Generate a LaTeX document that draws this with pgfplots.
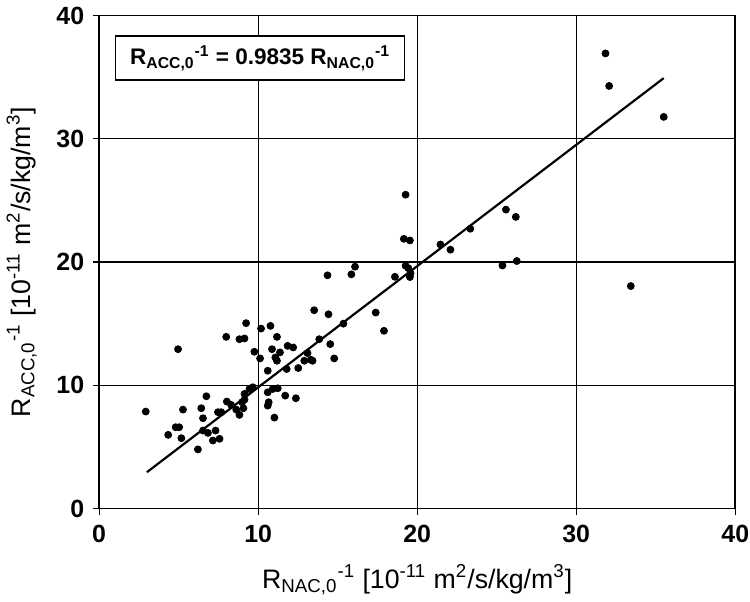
\documentclass[border=0pt]{standalone}
\usepackage{pgfplots}
\pgfplotsset{compat=1.18}
\usepackage{fontspec}
\setmainfont{Liberation Sans}
\pgfplotstableread{
x y
2.93 7.87
4.34 5.98
4.81 6.60
5.03 6.60
5.17 5.71
5.27 8.03
4.96 12.93
6.21 4.80
6.42 8.14
6.53 7.33
6.53 6.33
6.74 9.11
6.84 6.14
7.15 5.52
7.32 6.33
7.57 5.66
7.47 7.82
7.68 7.82
8.03 8.68
8.30 8.41
8.62 8.03
8.82 7.60
8.99 8.63
9.14 8.84
9.14 9.30
9.45 9.70
9.07 8.14
9.66 9.84
7.99 13.93
8.82 13.74
9.14 13.80
9.24 15.04
9.76 12.72
10.12 12.18
10.18 14.60
10.77 14.82
10.87 12.93
10.60 11.18
10.91 9.70
11.23 9.76
10.60 9.43
10.66 8.63
10.60 8.35
11.70 9.16
12.37 8.95
11.02 7.38
11.18 13.93
11.37 12.67
11.85 13.20
12.20 13.07
11.08 12.26
11.18 11.99
13.10 12.61
13.31 12.07
13.42 11.99
12.90 11.99
14.78 12.18
12.52 11.40
11.79 11.32
13.52 16.09
14.42 15.76
17.39 15.90
17.91 14.42
15.36 15.00
13.84 13.74
14.53 13.34
14.36 18.92
15.86 19.00
16.09 19.62
18.60 18.80
19.27 19.70
19.44 19.50
19.54 18.78
19.58 19.08
19.27 25.46
19.16 21.88
19.54 21.75
21.46 21.42
22.09 21.00
23.34 22.70
25.58 24.25
26.20 23.66
25.36 19.72
26.26 20.08
33.43 18.05
31.84 36.92
32.07 34.28
35.50 31.77
}\pts
\pgfplotstableread{
x y
3.0 2.9505
35.5 34.914
}\fitline
\begin{document}
\begin{tikzpicture}
\begin{axis}[
  scale only axis,
  width=319.25pt, height=247.5pt,
  xmin=0, xmax=40, ymin=0, ymax=40,
  xtick={0,10,20,30,40}, ytick={0,10,20,30,40},
  grid=major,
  major grid style={black, line width=0.55pt},
  axis line style={black, line width=0.8pt},
  tick style={black, line width=0.6pt},
  tick align=outside,
  major tick length=3pt,
  xtick pos=bottom, ytick pos=left,
  /pgf/number format/assume math mode=true,
  tick label style={font=\fontsize{12.5}{14}\selectfont\bfseries},
  xticklabel style={yshift=-2pt},
  yticklabel style={xshift=-1pt},
  label style={font=\fontsize{13.4}{15}\selectfont},
  xlabel={R\textsubscript{NAC,0}\textsuperscript{-1} [10\textsuperscript{-11} m\textsuperscript{2}/s/kg/m\textsuperscript{3}]},
  ylabel={R\textsubscript{ACC,0}\textsuperscript{-1} [10\textsuperscript{-11} m\textsuperscript{2}/s/kg/m\textsuperscript{3}]},
  xlabel style={yshift=-4pt},
  ylabel style={yshift=3pt},
]
\addplot[only marks, mark=*, mark size=1.75pt, black] table[x=x,y=y]{\pts};
\addplot[black, line width=1.1pt] table[x=x,y=y]{\fitline};
\node[draw=black, line width=0.7pt, fill=white, minimum width=145pt, minimum height=22pt, inner sep=2pt, font=\fontsize{11.3}{13}\selectfont\bfseries] at (axis cs:10.12,36.54) {R\textsubscript{ACC,0}\textsuperscript{-1} = 0.9835 R\textsubscript{NAC,0}\textsuperscript{-1}};
\end{axis}
\coordinate (ur) at (current axis.outer north -| current axis.east);
\pgfresetboundingbox
\path (current axis.outer south west) rectangle ([xshift=7.4pt]ur);
\end{tikzpicture}
\end{document}
